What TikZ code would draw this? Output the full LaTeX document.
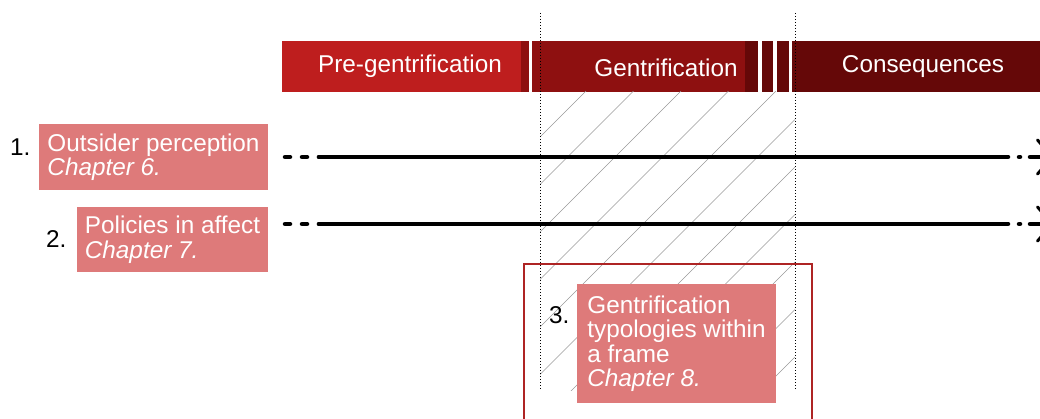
\documentclass[tikz,border=0pt]{standalone}
\usepackage{fontspec}
\setmainfont{Liberation Sans}
\usetikzlibrary{arrows.meta}
\definecolor{pregen}{HTML}{BE1E1E}
\definecolor{gen}{HTML}{8E1010}
\definecolor{cons}{HTML}{650808}
\definecolor{salmon}{HTML}{DE7A7A}
\definecolor{framered}{HTML}{AE2424}
\begin{document}
\begin{tikzpicture}
            [
                x = 1pt, y = -1pt,
                every node/.style = {inner sep=0pt,
                font=\fontsize{24.3}{24.5}\selectfont},
                phasetext/.style = {text=white, anchor=base},
                chapter/.style = {fill=salmon, text=white, align=left},
                number/.style = {anchor=base west},
                hatch/.style = {gray!80, line width=0.6pt},
                timeline/.style = {line width=4.5pt, line cap=round},
                lead/.style = {timeline, dash pattern=on 5pt off 12pt},
                trail/.style = {timeline, dash pattern=on 1pt off 10pt on 40pt off 1pt,
                -{Straight Barb[length=15pt, width=34pt, line width=3pt, round]}}
            ]
            \useasboundingbox (0,0) rectangle (1040,419);
            % phases
            \fill[pregen] (282,41) rectangle (521,92);
            \fill[gen] (521,41) rectangle (529,92);
            \fill[gen] (532,41) rectangle (745,92);
            \fill[cons] (745,41) rectangle (758,92);
            \fill[cons] (762,41) rectangle (773,92);
            \fill[cons] (777,41) rectangle (789,92);
            \fill[cons] (792,41) rectangle (1040,92);
            \node[phasetext] (pre) at (410,73) {Pre-gentrification};
            \node[phasetext] (gentri) at (666,77) {Gentrification};
            \node[phasetext] (conseq) at (923,73) {Consequences};
            % hatched gentrification period
            \begin{scope}
                \clip (540,92) rectangle (795,390);
                \foreach \c in {582,629.5,...,1200}
                    \draw[hatch] (540,{\c-540}) -- (795,{\c-795});
            \end{scope}
            \draw[dotted, line width=1pt] (540,13) -- (540,390);
            \draw[dotted, line width=1pt] (795,13) -- (795,390);
            % timelines
            \foreach \y/\n in {157/1, 224/2} {
                \coordinate (s\n) at (285,\y);
                \coordinate (m\n) at (319,\y);
                \coordinate (e\n) at (1008,\y);
                \coordinate (d\n) at (1019,\y);
                \coordinate (t\n) at (1054,\y);
                \draw[lead] (s\n) -- (m\n);
                \draw[timeline] (m\n) -- (e\n);
                \draw[trail] (d\n) -- (t\n);
            }
            \draw[framered, line width=1.5pt] (524,264) rectangle (812,430);
            % chapters
            \node[chapter, minimum width=229pt, minimum height=66pt] (ch6)
                at (153.5,157) {Outsider perception\\\textit{Chapter 6.}};
            \node[chapter, minimum width=191pt, minimum height=65pt] (ch7)
                at (172.5,239.5) {Policies in affect\\\textit{Chapter 7.}};
            \node[chapter, minimum width=199pt, minimum height=119pt] (ch8)
                at (676.5,343.5) {Gentrification\\typologies within\\a frame\\\textit{Chapter 8.}};
            \node[number] (n1) at (10,156) {1.};
            \node[number] (n2) at (46,248) {2.};
            \node[number] (n3) at (549,323) {3.};
        \end{tikzpicture}
\end{document}
